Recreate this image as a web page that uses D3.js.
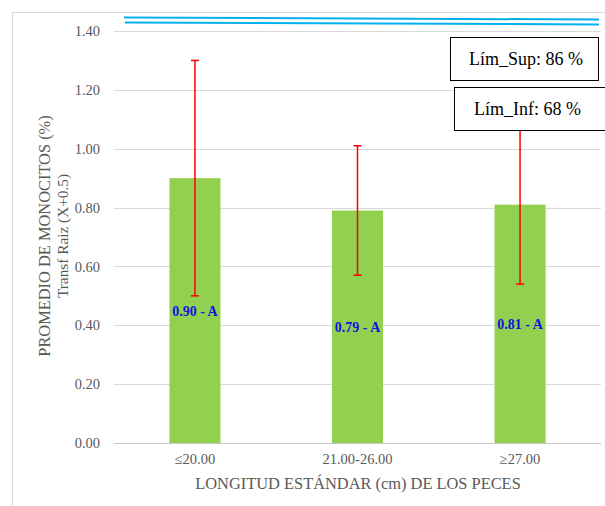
<!DOCTYPE html>
<html><head><meta charset="utf-8">
<script src="https://cdn.jsdelivr.net/npm/d3@7"></script>
<style>body{margin:0;background:#fff}svg{display:block}text{font-family:"Liberation Serif","Times New Roman",serif}</style>
</head><body>
<script>
const categories = ["≤20.00", "21.00-26.00", "≥27.00"];
const values = [0.90, 0.79, 0.81];
const errors = [0.40, 0.22, 0.27];
const labels = ["0.90 - A", "0.79 - A", "0.81 - A"];
const yTicks = [0, 0.2, 0.4, 0.6, 0.8, 1.0, 1.2, 1.4];

const W = 605, H = 506;
const svg = d3.select("body").append("svg").attr("width", W).attr("height", H);
const font = "Liberation Serif";

// outer chart border
svg.append("rect").attr("x", 12.5).attr("y", 12.5).attr("width", 700).attr("height", 600)
  .attr("fill", "none").attr("stroke", "#d9d9d9");

const x = d3.scaleBand().domain(categories).range([114, 601]).paddingInner(0.686).paddingOuter(0.341);
const y = d3.scaleLinear().domain([0, 1.4]).range([443, 31]);

// gridlines
svg.append("g").selectAll("line").data(yTicks).join("line")
  .attr("x1", 114).attr("x2", 601)
  .attr("y1", d => Math.round(y(d)) + 0.5).attr("y2", d => Math.round(y(d)) + 0.5)
  .attr("stroke", d => d === 0 ? "#c8c8c8" : "#d9d9d9").attr("stroke-width", 1.2);

// y tick labels
const yAxis = d3.axisLeft(y).tickValues(yTicks).tickFormat(d3.format(".2f")).tickSize(0).tickPadding(0);
const ga = svg.append("g").attr("transform", "translate(100,0)").call(yAxis);
ga.select(".domain").remove();
ga.selectAll("text").attr("font-family", font).attr("font-size", 14.5).attr("fill", "#595959");

// x tick labels
const xAxis = d3.axisBottom(x).tickSize(0).tickPadding(0);
const gx = svg.append("g").attr("transform", "translate(0,454)").call(xAxis);
gx.select(".domain").remove();
gx.selectAll("text").attr("font-family", font).attr("font-size", 14.5).attr("fill", "#595959");

// bars
svg.append("g").selectAll("rect").data(values).join("rect")
  .attr("x", (d, i) => x(categories[i])).attr("width", x.bandwidth())
  .attr("y", d => y(d)).attr("height", d => y(0) - y(d))
  .attr("fill", "#92d050");

// error bars
const eb = svg.append("g").attr("stroke", "#ff0000").attr("stroke-width", 1.5);
values.forEach((v, i) => {
  const cx = x(categories[i]) + x.bandwidth() / 2;
  const t = y(v + errors[i]), b = y(v - errors[i]);
  eb.append("line").attr("x1", cx).attr("x2", cx).attr("y1", t).attr("y2", b);
  eb.append("line").attr("x1", cx - 4).attr("x2", cx + 4).attr("y1", t).attr("y2", t);
  eb.append("line").attr("x1", cx - 4).attr("x2", cx + 4).attr("y1", b).attr("y2", b);
});

// data labels
svg.append("g").selectAll("text").data(values).join("text")
  .attr("x", (d, i) => x(categories[i]) + x.bandwidth() / 2)
  .attr("y", d => y(d / 2) + 5)
  .attr("text-anchor", "middle").attr("font-family", font).attr("font-size", 14)
  .attr("font-weight", "bold").attr("fill", "#1010e0")
  .text((d, i) => labels[i]);

// blue lines at top
svg.append("line").attr("x1", 124).attr("y1", 17.5).attr("x2", 599).attr("y2", 19.5)
  .attr("stroke", "#00b0f0").attr("stroke-width", 2);
svg.append("line").attr("x1", 125).attr("y1", 22.5).attr("x2", 599).attr("y2", 24.5)
  .attr("stroke", "#00b0f0").attr("stroke-width", 2);

// limit boxes
svg.append("rect").attr("x", 450.5).attr("y", 37.5).attr("width", 148).attr("height", 43)
  .attr("fill", "#fff").attr("stroke", "#000").attr("stroke-width", 1);
svg.append("text").attr("x", 469).attr("y", 65).attr("font-family", font).attr("font-size", 18)
  .attr("fill", "#000").text("Lím_Sup: 86 %");
svg.append("rect").attr("x", 454.5).attr("y", 87.5).attr("width", 160).attr("height", 43)
  .attr("fill", "#fff").attr("stroke", "#000").attr("stroke-width", 1);
svg.append("text").attr("x", 474).attr("y", 115).attr("font-family", font).attr("font-size", 18)
  .attr("fill", "#000").text("Lím_Inf: 68 %");

// axis titles
svg.append("text").attr("x", 358).attr("y", 489).attr("text-anchor", "middle")
  .attr("font-family", font).attr("font-size", 16.4).attr("fill", "#595959")
  .text("LONGITUD ESTÁNDAR (cm) DE LOS PECES");
const yt = svg.append("text").attr("transform", "translate(0,236) rotate(-90)")
  .attr("text-anchor", "middle").attr("font-family", font).attr("font-size", 16.4).attr("fill", "#595959");
yt.append("tspan").attr("x", 0).attr("y", 50).text("PROMEDIO DE MONOCITOS (%)");
yt.append("tspan").attr("x", 0).attr("y", 68).attr("font-size", 15.3).text("Transf Raiz (X+0.5)");
</script>
</body></html>
